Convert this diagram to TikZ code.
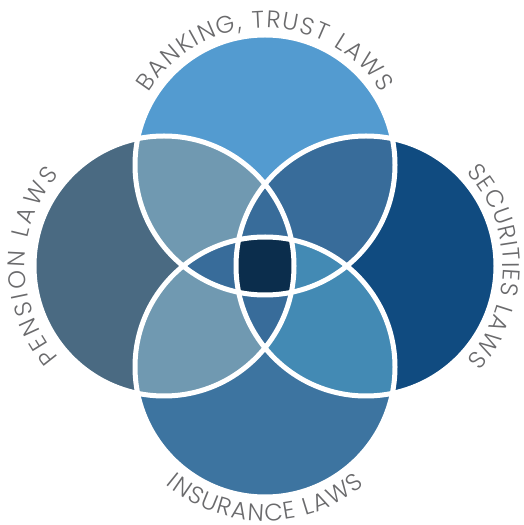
\documentclass[tikz,border=0pt]{standalone}
\usepackage{fontspec}
\usepackage{xcolor}
\usetikzlibrary{decorations.text}
\newfontfamily\lawfont{Poppins Light}

\definecolor{topblue}{HTML}{539BD0}
\definecolor{leftslate}{HTML}{4A6A82}
\definecolor{rightnavy}{HTML}{104B80}
\definecolor{bottomblue}{HTML}{3D74A0}
\definecolor{sidegray}{HTML}{7099B1}
\definecolor{lensblue}{HTML}{386C9A}
\definecolor{lightlens}{HTML}{438AB4}
\definecolor{coreblue}{HTML}{0B2D4C}
\definecolor{labelgray}{HTML}{6A6A6C}

\newcommand{\circr}{130}

\tikzset{
  ring/.style={draw=white, line width=5pt},
  lawlabel/.style={decorate, decoration={text along path, text align={fit to path},
    text={|\lawfont\fontsize{24}{24}\selectfont\color{labelgray}|#1}}}
}

\begin{document}
\begin{tikzpicture}[x=1pt,y=1pt]
      % Frame
      \useasboundingbox (0,0) rectangle (523,525);

      % Centres
      \foreach \name/\x/\y in {top/265/360, left/164/259, right/366/259, bottom/265/158}
      {
        \coordinate (\name) at (\x,\y);
      }

      % Circles
      \foreach \name/\col in {top/topblue, left/leftslate, right/rightnavy, bottom/bottomblue}
      {
        \fill[\col] (\name) circle (\circr);
      }

      % Two circles
      \foreach \a/\b/\col in {top/left/sidegray, top/right/lensblue, bottom/left/sidegray, bottom/right/lightlens}
      {
        \begin{scope}
          \clip (\a) circle (\circr);
          \fill[\col] (\b) circle (\circr);
        \end{scope}
      }

      % Three circles
      \foreach \a/\b/\c/\col in {top/left/right/lensblue, top/left/bottom/lensblue, bottom/left/right/lensblue, top/right/bottom/lightlens}
      {
        \begin{scope}
          \clip (\a) circle (\circr);
          \clip (\b) circle (\circr);
          \fill[\col] (\c) circle (\circr);
        \end{scope}
      }

      % Centre
      \begin{scope}
        \clip (top) circle (\circr);
        \clip (left) circle (\circr);
        \clip (right) circle (\circr);
        \fill[coreblue] (bottom) circle (\circr);
      \end{scope}

      % Outlines
      \foreach \name in {top,left,right,bottom}
      {
        \draw[ring] (\name) circle (\circr);
      }

      % Labels
      \path[lawlabel={BANKING, TRUST LAWS}] (top) ++(148:137) arc[start angle=148, end angle=32, radius=137];
      \path[lawlabel={PENSION LAWS}] (left) ++(221:139) arc[start angle=221, end angle=139, radius=139];
      \path[lawlabel={SECURITIES LAWS}] (right) ++(43:137) arc[start angle=43, end angle=-43, radius=137];
      \path[lawlabel={INSURANCE LAWS}] (bottom) ++(230:154) arc[start angle=230, end angle=310, radius=154];
  \end{tikzpicture}
\end{document}
